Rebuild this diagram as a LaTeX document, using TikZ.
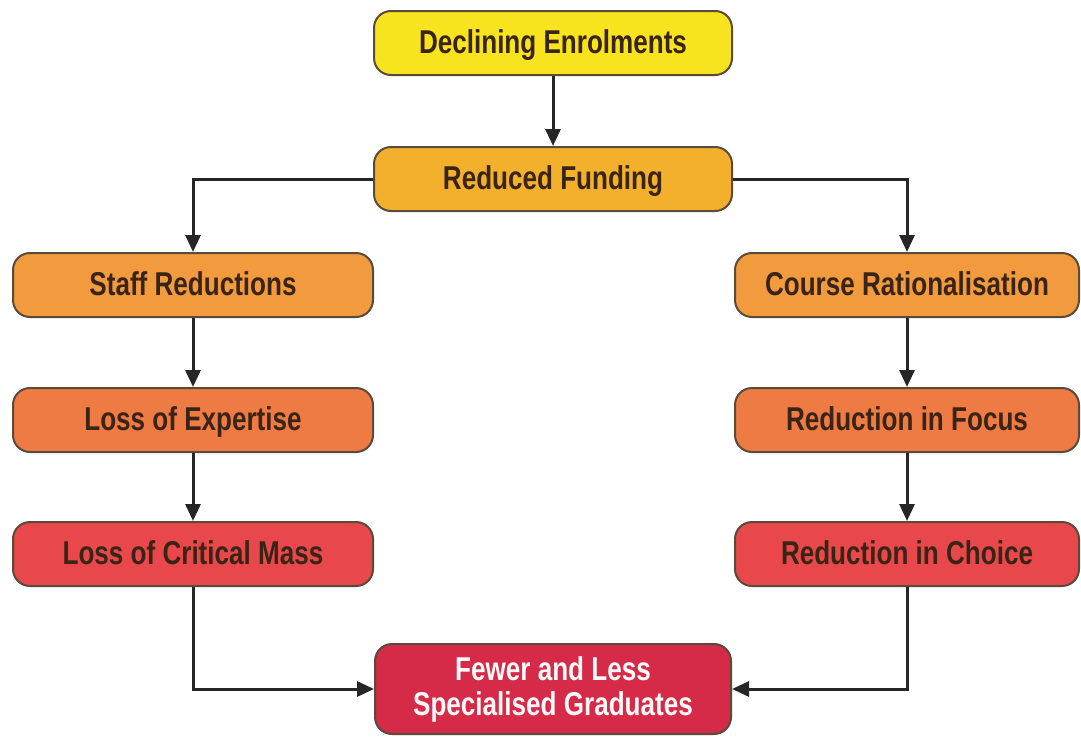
\documentclass[tikz,border=0pt]{standalone}
\usepackage{fontspec}
\setmainfont{Liberation Sans}[FakeStretch=0.79]
\usetikzlibrary{arrows.meta}
\definecolor{cYellow}{HTML}{F7E41E}
\definecolor{cAmber}{HTML}{F3B02C}
\definecolor{cOrange}{HTML}{F29A3E}
\definecolor{cDeepOrange}{HTML}{EE7A44}
\definecolor{cRed}{HTML}{E8484B}
\definecolor{cCrimson}{HTML}{D52A48}
\definecolor{cBorder}{HTML}{5A4A3A}
\definecolor{cText}{HTML}{3A2416}
\definecolor{cLine}{HTML}{262626}
\begin{document}
\begin{tikzpicture}[x=1pt,y=-1pt,
  box/.style={draw=cBorder, line width=2pt, rounded corners=17pt,
    minimum width=#1, minimum height=64pt, inner sep=0pt,
    text height=24pt, text depth=4pt,
    font=\bfseries\fontsize{33}{35}\selectfont, text=cText},
  box/.default=360pt,
  flow/.style={draw=cLine, line width=3pt,
    -{Triangle[length=17pt,width=15pt]}}]
  \useasboundingbox (0,0) rectangle (1081,736);
  % top of the chain
  \node[box=358pt, fill=cYellow] (de) at (553,43) {Declining Enrolments};
  \node[box=358pt, fill=cAmber] (rf) at (553,179) {Reduced Funding};
  % left branch: staffing
  \node[box, fill=cOrange] (sr) at (193,285) {Staff Reductions};
  \node[box, fill=cDeepOrange] (le) at (193,420) {Loss of Expertise};
  \node[box, fill=cRed] (lc) at (193,554) {Loss of Critical Mass};
  % right branch: courses
  \node[box=344pt, fill=cOrange] (cr) at (907,285) {Course Rationalisation};
  \node[box=344pt, fill=cDeepOrange] (rfo) at (907,420) {Reduction in Focus};
  \node[box=344pt, fill=cRed] (rc) at (907,554) {Reduction in Choice};
  % outcome
  \node[box=356pt, minimum height=90pt, fill=cCrimson, text=white!92!pink,
    align=center, text height=, text depth=,
    font=\bfseries\fontsize{33}{35}\selectfont] (fw) at (553,689)
    {Fewer and Less\\Specialised Graduates};
  % connectors
  \draw[flow] (de) -- (rf);
  \draw[flow] (rf.west) -| (sr.north);
  \draw[flow] (rf.east) -| (cr.north);
  \draw[flow] (sr) -- (le);
  \draw[flow] (le) -- (lc);
  \draw[flow] (cr) -- (rfo);
  \draw[flow] (rfo) -- (rc);
  \draw[flow] (lc.south) |- (fw.west);
  \draw[flow] (rc.south) |- (fw.east);
\end{tikzpicture}
\end{document}
